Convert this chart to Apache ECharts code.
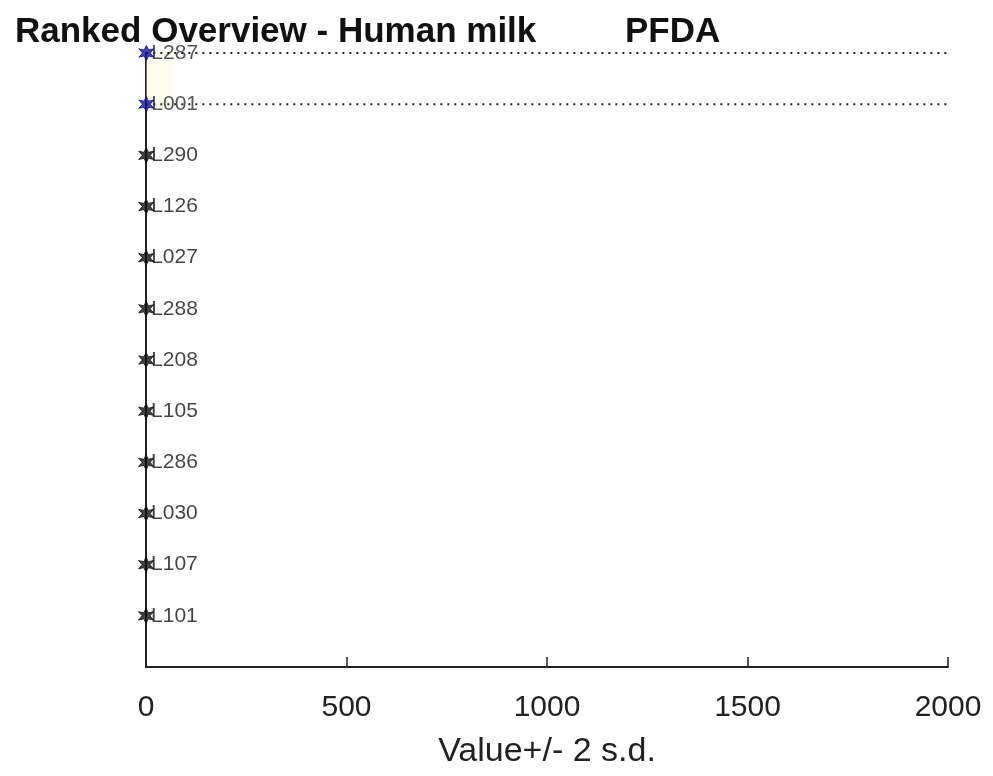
<!DOCTYPE html>
<html>
<head>
<meta charset="utf-8">
<script src="https://cdn.jsdelivr.net/npm/echarts@6/dist/echarts.min.js"></script>
<style>
  html, body { margin: 0; padding: 0; background: #fff; }
  #main { width: 993px; height: 776px; }
</style>
</head>
<body>
<div id="main"></div>
<script>
var dom = document.getElementById('main');
var myChart = echarts.init(dom);

// labs, ranked top to bottom
var labs = ['L287', 'L001', 'L290', 'L126', 'L027', 'L288', 'L208', 'L105', 'L286', 'L030', 'L107', 'L101'];
var values = [0.9, 0.8, 0.6, 0.5, 0.45, 0.4, 0.35, 0.3, 0.25, 0.2, 0.15, 0.1];
var flagged = ['L287', 'L001'];
var xTicks = [0, 500, 1000, 1500, 2000];

// chunky asterisk-like star
var starPath = 'path://M50,0 L64,30 L96,22 L74,50 L96,78 L64,70 L50,100 L36,70 L4,78 L26,50 L4,22 L36,30 Z';

var normalPts = [], flaggedPts = [];
labs.forEach(function (lab, i) {
    var pt = { value: [values[i], labs.length - i], name: lab };
    if (flagged.indexOf(lab) >= 0) flaggedPts.push(pt); else normalPts.push(pt);
});

var series = [];
// dotted guide lines for flagged labs
flaggedPts.forEach(function (p) {
    series.push({
        type: 'line',
        data: [[p.value[0], p.value[1]], [xTicks[xTicks.length - 1], p.value[1]]],
        symbol: 'none',
        silent: true,
        lineStyle: { color: '#222', width: 2, type: [2, 5] },
        z: 1
    });
});

var lbl = {
    show: true,
    position: 'right',
    distance: -3,
    formatter: function (p) { return p.name; },
    fontFamily: 'Liberation Sans, Arial',
    fontSize: 21,
    color: '#151515'
};

series.push({
    type: 'scatter',
    data: normalPts,
    symbol: starPath,
    symbolSize: 15,
    itemStyle: { color: '#111', borderColor: '#111', borderWidth: 1 },
    label: lbl,
    z: 3
});
series.push({
    type: 'scatter',
    data: flaggedPts,
    symbol: starPath,
    symbolSize: 15,
    itemStyle: { color: '#10109a', borderColor: '#10109a', borderWidth: 1 },
    label: Object.assign({}, lbl, { color: '#2a2a3a' }),
    z: 3
});
// faint yellow band
series.push({
    type: 'line',
    data: [],
    markArea: {
        silent: true,
        itemStyle: { color: 'rgba(250,250,210,0.35)' },
        data: [[{ coord: [0, 10.9] }, { coord: [70, 12] }]]
    }
});

option = {
    animation: false,
    backgroundColor: '#fff',
    title: [
        {
            text: 'Ranked Overview - Human milk',
            left: 10, top: 10,
            textStyle: { fontFamily: 'Liberation Sans, Arial', fontWeight: 'bold', fontSize: 35, color: '#111' }
        },
        {
            text: 'PFDA',
            left: 620, top: 10,
            textStyle: { fontFamily: 'Liberation Sans, Arial', fontWeight: 'bold', fontSize: 35, color: '#111' }
        }
    ],
    grid: { left: 146, right: 45, top: 53, bottom: 109 },
    xAxis: {
        type: 'value',
        min: xTicks[0],
        max: xTicks[xTicks.length - 1],
        interval: 500,
        name: 'Value+/- 2 s.d.',
        nameLocation: 'middle',
        nameGap: 68,
        nameTextStyle: { fontFamily: 'Liberation Sans, Arial', fontSize: 34, color: '#222' },
        axisLine: { lineStyle: { color: '#222', width: 2 } },
        axisTick: { inside: true, length: 10, lineStyle: { color: '#222', width: 1.5 } },
        axisLabel: {
            fontFamily: 'Liberation Sans, Arial', fontSize: 30, color: '#222', margin: 26,
            formatter: function (v) { return String(v); }
        },
        splitLine: { show: false }
    },
    yAxis: {
        type: 'value',
        min: 0,
        max: labs.length,
        axisLine: { show: true, lineStyle: { color: '#222', width: 2 } },
        axisTick: { show: false },
        axisLabel: { show: false },
        splitLine: { show: false }
    },
    series: series
};

if (option && typeof option === 'object') {
    myChart.setOption(option, true);
}
</script>
</body>
</html>
